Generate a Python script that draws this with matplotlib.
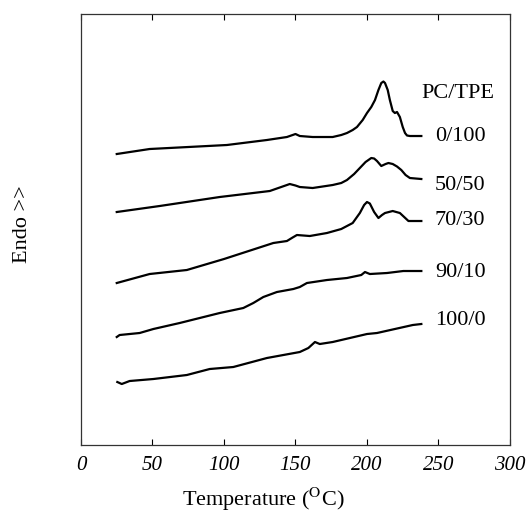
import numpy as np
import matplotlib
matplotlib.use('Agg')
import matplotlib.pyplot as plt

plt.rcParams['font.family'] = ['Liberation Serif', 'DejaVu Serif']
plt.rcParams['mathtext.fontset'] = 'stix'

# DSC traces (temperature in C, heat flow in arbitrary units)
t_0_100 = [25, 48, 102, 130, 144, 150, 153, 162, 176, 182, 186, 190, 193, 197, 200, 203,
           205.6, 208, 210, 211.5, 212.6, 214.5, 216, 218, 219.5, 221, 223, 225, 226.6,
           228, 230, 238]
h_0_100 = [291, 296, 300, 305, 308, 311, 309, 308, 308, 310, 312, 315, 318, 325, 332, 338,
           345, 355, 362, 363.5, 362, 355, 345, 334, 332, 333, 328, 318, 312,
           309.5, 309, 309]

t_50_50 = [25, 55, 97, 132, 140, 146, 150, 153, 162, 176, 182, 186, 191, 195, 199, 203,
           205, 207, 210, 213, 215, 218, 221, 224, 227, 230, 238]
h_50_50 = [233, 239, 248, 254, 258, 261, 259.5, 258, 257, 260, 262, 265, 271, 277, 283, 287,
           286.5, 284, 279, 281, 282, 281, 278.5, 275, 270, 267, 266]

t_70_30 = [25, 48, 74, 100, 134.5, 144, 148, 151, 160, 172, 182, 190, 195, 198, 200, 202,
           205, 208, 210.5, 212.6, 218, 223, 226, 229, 238]
h_70_30 = [162, 171, 175, 186, 202, 204, 207.5, 210, 209, 212, 216, 222, 232, 240, 243, 241.5,
           233, 227, 230, 232, 234, 232, 228, 224, 224]

t_90_10 = [25, 27, 41, 50.6, 69, 97, 113.5, 120.5, 127.5, 137, 148.5, 153, 158, 172,
           186, 196, 198.6, 202, 214, 225.4, 238]
h_90_10 = [108, 110, 112, 116, 122, 132, 137, 142, 148, 153, 156, 158, 162, 165,
           167, 170, 173, 171, 172, 174, 174]

t_100_0 = [25.4, 28.5, 34, 50.6, 74, 90, 106.5, 130, 153, 159, 163.6, 167, 176, 200,
           207, 232, 238]
h_100_0 = [63, 61, 64, 66, 70, 76, 78, 87, 93, 97, 103, 101, 103, 111, 112, 120, 121]

names = ['0/100', '50/50', '70/30', '90/10', '100/0']
label_y = [309, 260, 225, 173, 125]
x_ticks = [0, 50, 100, 150, 200, 250, 300]

fig = plt.figure(figsize=(5.27, 5.15), dpi=100)
ax = fig.add_axes([0.1537, 0.1359, 0.8140, 0.8369])

for t, h in [(t_0_100, h_0_100), (t_50_50, h_50_50), (t_70_30, h_70_30),
             (t_90_10, h_90_10), (t_100_0, h_100_0)]:
    ax.plot(t, h, color='black', lw=1.6, solid_joinstyle='round')

ax.text(238, 352, 'PC/TPE', fontsize=16, va='center', ha='left')
for name, y in zip(names, label_y):
    ax.text(247.5, y, name, fontsize=16, va='center', ha='left')

ax.set_xlim(0, 300)
ax.set_ylim(0, 431)
ax.set_xticks(x_ticks)
ax.set_xticklabels([str(v) for v in x_ticks], fontsize=15, style='italic')
ax.set_yticks([])
ax.tick_params(axis='x', direction='in', top=True, length=4, pad=8, width=0.8)
for s in ax.spines.values():
    s.set_linewidth(0.9)
    s.set_color('#333333')

fig.text(0.5, 0.004, 'Temperature ($^{\\mathrm{O}}$C)', fontsize=16, ha='center', va='bottom')
fig.text(0.042, 0.565, 'Endo >>', fontsize=16, rotation=90, ha='center', va='center')

fig.savefig('out.png', dpi=100)
